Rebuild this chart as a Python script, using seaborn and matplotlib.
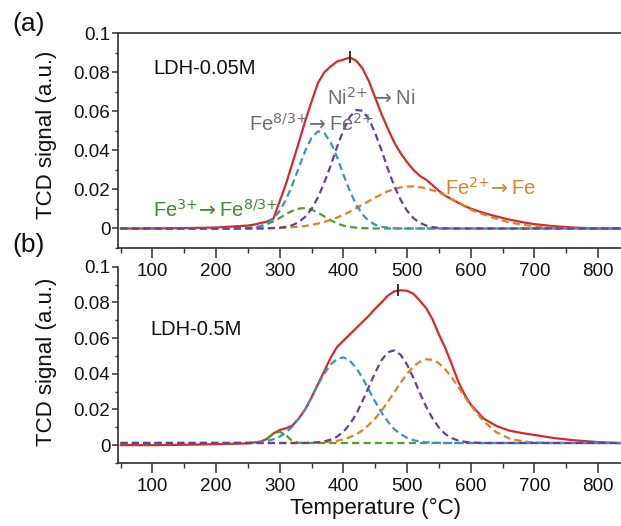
import matplotlib
matplotlib.use("Agg")
import matplotlib.pyplot as plt
import seaborn as sns
import pandas as pd
from matplotlib.ticker import FixedLocator, FixedFormatter, MultipleLocator

# ---------------- data ----------------
temperature = [50, 100, 150, 200, 250, 260, 270, 280, 290, 300, 310, 320, 330, 340,
               350, 360, 370, 380, 390, 400, 410, 420, 430, 440, 450, 460, 470, 480,
               490, 500, 510, 520, 530, 540, 550, 560, 570, 580, 590, 600, 620, 640,
               660, 680, 700, 730, 760, 800, 840]

# panel (a) LDH-0.05M
a_total = [0.0, 0.0, 0.0002, 0.0005, 0.0015, 0.002, 0.0028, 0.0035, 0.005, 0.014, 0.023,
           0.0335, 0.044, 0.055, 0.065, 0.0745, 0.080, 0.083, 0.0855, 0.0865, 0.0876, 0.086,
           0.082, 0.0755, 0.067, 0.0585, 0.051, 0.044, 0.0385, 0.034, 0.030, 0.027, 0.025,
           0.0222, 0.0193, 0.0168, 0.0150, 0.0133, 0.0116, 0.0102, 0.0080, 0.0062, 0.0046,
           0.0033, 0.0022, 0.0012, 0.0005, 0.0, 0.0]
a_fe3 = [0.0, 0.0, 0.0, 0.0, 0.0003, 0.0006, 0.0012, 0.0022, 0.0036, 0.0054, 0.0074, 0.0091,
         0.0102, 0.0105, 0.0097, 0.0081, 0.0062, 0.0043, 0.0026, 0.0015, 0.0008, 0.0004,
         0.0002, 0.0001, 0.0, 0.0, 0.0, 0.0, 0.0, 0.0, 0.0, 0.0, 0.0, 0.0, 0.0, 0.0, 0.0,
         0.0, 0.0, 0.0, 0.0, 0.0, 0.0, 0.0, 0.0, 0.0, 0.0, 0.0, 0.0]
a_fe83 = [0.0, 0.0, 0.0, 0.0, 0.0002, 0.0005, 0.0012, 0.0026, 0.0050, 0.0090, 0.0148, 0.0226,
          0.0312, 0.0397, 0.0465, 0.0498, 0.0489, 0.0441, 0.0366, 0.0276, 0.0193, 0.0122,
          0.0072, 0.0039, 0.0019, 0.0009, 0.0004, 0.0001, 0.0, 0.0, 0.0, 0.0, 0.0, 0.0,
          0.0, 0.0, 0.0, 0.0, 0.0, 0.0, 0.0, 0.0, 0.0, 0.0, 0.0, 0.0, 0.0, 0.0, 0.0]
a_ni = [0.0, 0.0, 0.0, 0.0, 0.0, 0.0, 0.0, 0.0001, 0.0002, 0.0004, 0.0009, 0.0017, 0.0033,
        0.0060, 0.0100, 0.0159, 0.0235, 0.0322, 0.0418, 0.0503, 0.0572, 0.0607, 0.0603,
        0.0561, 0.0488, 0.0400, 0.0304, 0.0216, 0.0146, 0.0091, 0.0053, 0.0029, 0.0015,
        0.0007, 0.0003, 0.0001, 0.0, 0.0, 0.0, 0.0, 0.0, 0.0, 0.0, 0.0, 0.0, 0.0, 0.0,
        0.0, 0.0]
a_fe2 = [0.0, 0.0, 0.0, 0.0, 0.0, 0.0, 0.0001, 0.0001, 0.0002, 0.0003, 0.0004, 0.0007,
         0.0009, 0.0013, 0.0019, 0.0025, 0.0034, 0.0043, 0.0056, 0.0070, 0.0086, 0.0104,
         0.0122, 0.0140, 0.0158, 0.0176, 0.0191, 0.0202, 0.0211, 0.0215, 0.0216, 0.0212,
         0.0206, 0.0196, 0.0185, 0.0168, 0.0150, 0.0132, 0.0114, 0.0097, 0.0072, 0.0050,
         0.0032, 0.0020, 0.0011, 0.0004, 0.0001, 0.0, 0.0]

# panel (b) LDH-0.5M
b_total = [0.0, 0.0, 0.0002, 0.0005, 0.001, 0.0015, 0.002, 0.0035, 0.0065, 0.0085, 0.0095,
           0.011, 0.0150, 0.0200, 0.0268, 0.0342, 0.0415, 0.049, 0.055, 0.0585, 0.062, 0.0655,
           0.069, 0.0725, 0.0765, 0.080, 0.0838, 0.0862, 0.0868, 0.0865, 0.0848, 0.081,
           0.0768, 0.0705, 0.062, 0.0545, 0.0455, 0.036, 0.0285, 0.0228, 0.0150, 0.0108,
           0.0082, 0.0068, 0.0057, 0.0040, 0.0028, 0.0017, 0.001]
b_fe3 = [0.0012, 0.0012, 0.0012, 0.0012, 0.0012, 0.0012, 0.0018, 0.0035, 0.0065, 0.0075,
         0.0055, 0.0022, 0.0013, 0.0012, 0.0012, 0.0012, 0.0012, 0.0012, 0.0012, 0.0012,
         0.0012, 0.0012, 0.0012, 0.0012, 0.0012, 0.0012, 0.0012, 0.0012, 0.0012, 0.0012,
         0.0012, 0.0012, 0.0012, 0.0012, 0.0012, 0.0012, 0.0012, 0.0012, 0.0012, 0.0012,
         0.0012, 0.0012, 0.0012, 0.0012, 0.0012, 0.0012, 0.0012, 0.0012, 0.0012]
b_fe83 = [0.0012, 0.0012, 0.0012, 0.0012, 0.0013, 0.0015, 0.0018, 0.0023, 0.0033, 0.0048,
          0.0071, 0.0105, 0.0150, 0.0200, 0.0266, 0.0338, 0.0401, 0.0452, 0.0483, 0.0492,
          0.0474, 0.0433, 0.0377, 0.0309, 0.0243, 0.0182, 0.0131, 0.0089, 0.0061, 0.0041,
          0.0028, 0.0020, 0.0016, 0.0014, 0.0013, 0.0012, 0.0012, 0.0012, 0.0012, 0.0012,
          0.0012, 0.0012, 0.0012, 0.0012, 0.0012, 0.0012, 0.0012, 0.0012, 0.0012]
b_ni = [0.0012, 0.0012, 0.0012, 0.0012, 0.0012, 0.0012, 0.0012, 0.0012, 0.0012, 0.0012,
        0.0012, 0.0012, 0.0012, 0.0012, 0.0014, 0.0016, 0.0021, 0.0031, 0.0047, 0.0075,
        0.0117, 0.0173, 0.0247, 0.0327, 0.0407, 0.0477, 0.0521, 0.0531, 0.0506, 0.0451,
        0.0376, 0.0293, 0.0215, 0.0150, 0.0099, 0.0062, 0.0040, 0.0026, 0.0019, 0.0015,
        0.0012, 0.0012, 0.0012, 0.0012, 0.0012, 0.0012, 0.0012, 0.0012, 0.0012]
b_fe2 = [0.0012, 0.0012, 0.0012, 0.0012, 0.0012, 0.0012, 0.0012, 0.0012, 0.0012, 0.0012,
         0.0012, 0.0012, 0.0012, 0.0012, 0.0013, 0.0014, 0.0016, 0.0019, 0.0024, 0.0032,
         0.0044, 0.0060, 0.0083, 0.0114, 0.0149, 0.0193, 0.0244, 0.0297, 0.0350, 0.0400,
         0.0441, 0.0467, 0.0481, 0.0478, 0.0459, 0.0425, 0.0380, 0.0328, 0.0274, 0.0224,
         0.0134, 0.0073, 0.0038, 0.0022, 0.0015, 0.0012, 0.0012, 0.0012, 0.0012]

peak_a = [410, 0.0876]
peak_b = [486, 0.0869]

x_ticks = [100, 200, 300, 400, 500, 600, 700, 800]
x_tick_labels = ["100", "200", "300", "400", "500", "600", "700", "800"]
y_ticks = [0, 0.02, 0.04, 0.06, 0.08, 0.1]
y_tick_labels = ["0", "0.02", "0.04", "0.06", "0.08", "0.1"]

sample_labels = ["LDH-0.05M", "LDH-0.5M"]
x_label = "Temperature (°C)"
y_label = "TCD signal (a.u.)"

# ---------------- style ----------------
sns.set_style("ticks")
plt.rcParams['font.family'] = ['Liberation Sans', 'DejaVu Sans']
plt.rcParams['mathtext.fontset'] = 'dejavusans'

C_RED = '#d42a2a'
C_BLUE = '#3d8fd0'
C_PURPLE = '#6a3d9c'
C_GREEN = '#4d9e2c'
C_ORANGE = '#e2801f'
C_AXIS = '#303030'

fig = plt.figure(figsize=(6.21, 5.26), dpi=100)
ax_a = fig.add_axes([0.190, 0.5285, 0.810, 0.4082])
ax_b = fig.add_axes([0.190, 0.1198, 0.810, 0.3732])

dash = (0, (3.2, 1.9))

def draw_panel(ax, total, fe3, fe83, ni, fe2, peak):
    df = pd.DataFrame({'T': temperature, 'total': total, 'fe3': fe3,
                       'fe83': fe83, 'ni': ni, 'fe2': fe2})
    sns.lineplot(data=df, x='T', y='total', ax=ax, color=C_RED, lw=1.6,
                 estimator=None, sort=False)
    for col, c in [('fe3', C_GREEN), ('fe2', C_ORANGE), ('fe83', C_BLUE), ('ni', C_PURPLE)]:
        sns.lineplot(data=df, x='T', y=col, ax=ax, color=c, lw=1.6,
                     linestyle=dash, estimator=None, sort=False)
    ax.plot([peak[0]], [peak[1]], marker='|', ms=9, mew=1.3, color='#222222', zorder=5)
    ax.set_xlim(46, 836)
    ax.set_ylim(-0.01, 0.1)
    ax.set_xlabel('')
    ax.set_ylabel('')
    ax.set_facecolor('none')
    ax.xaxis.set_major_locator(FixedLocator(x_ticks))
    ax.xaxis.set_major_formatter(FixedFormatter(x_tick_labels))
    ax.xaxis.set_minor_locator(MultipleLocator(50))
    ax.yaxis.set_major_locator(FixedLocator(y_ticks))
    ax.yaxis.set_major_formatter(FixedFormatter(y_tick_labels))
    ax.yaxis.set_minor_locator(MultipleLocator(0.01))
    ax.tick_params(axis='x', which='major', direction='out', length=7, width=1.1,
                   color=C_AXIS, labelsize=13.5, pad=3.5, labelcolor='#111111')
    ax.tick_params(axis='x', which='minor', direction='out', length=3.5, width=1.0, color=C_AXIS)
    ax.tick_params(axis='y', which='major', direction='out', length=4, width=1.1,
                   color=C_AXIS, labelsize=13.5, pad=1.5, labelcolor='#111111')
    ax.tick_params(axis='y', which='minor', direction='out', length=2.5, width=1.0, color=C_AXIS)
    ax.spines['right'].set_visible(False)
    for s in ['left', 'bottom', 'top']:
        ax.spines[s].set_color(C_AXIS)
        ax.spines[s].set_linewidth(1.2)

draw_panel(ax_a, a_total, a_fe3, a_fe83, a_ni, a_fe2, peak_a)
draw_panel(ax_b, b_total, b_fe3, b_fe83, b_ni, b_fe2, peak_b)
ax_b.spines['top'].set_visible(False)
ax_a.set_zorder(3)

# sample labels
ax_a.text(101, 0.0818, sample_labels[0], fontsize=14.5, va='center', ha='left', color='#111111')
ax_b.text(97, 0.0647, sample_labels[1], fontsize=14.5, va='center', ha='left', color='#111111')

# peak assignments (panel a)
ann = 14.5
ax_a.text(375, 0.0634, r'Ni$^{2{+}}\,\rightarrow$Ni', fontsize=ann, color='#6e6e6e',
          ha='left', va='baseline')
ax_a.text(251, 0.0502, r'Fe$^{8/3{+}}\!\rightarrow$Fe$^{2{+}}$', fontsize=ann,
          color='#6e6e6e', ha='left', va='baseline')
ax_a.text(101, 0.0058, r'Fe$^{3{+}}\!\rightarrow$Fe$^{8/3{+}}$', fontsize=ann,
          color='#3f8a2c', ha='left', va='baseline')
ax_a.text(559, 0.0175, r'Fe$^{2{+}}\!\rightarrow$Fe', fontsize=ann, color='#d0862c',
          ha='left', va='baseline')

# figure-level labels
fig.text(12 / 621, 1 - 24 / 526, '(a)', fontsize=19, ha='left', va='center', color='#111111')
fig.text(12 / 621, 1 - 245 / 526, '(b)', fontsize=19, ha='left', va='center', color='#111111')
fig.text(47 / 621, 1 - 135 / 526, y_label, rotation=90, fontsize=16, ha='center', va='center',
         color='#111111')
fig.text(47 / 621, 1 - 362 / 526, y_label, rotation=90, fontsize=16, ha='center', va='center',
         color='#111111')
fig.text(375 / 621, 1 - 508 / 526, x_label, fontsize=16, ha='center', va='center',
         color='#111111')

fig.savefig('out.png', dpi=100)
